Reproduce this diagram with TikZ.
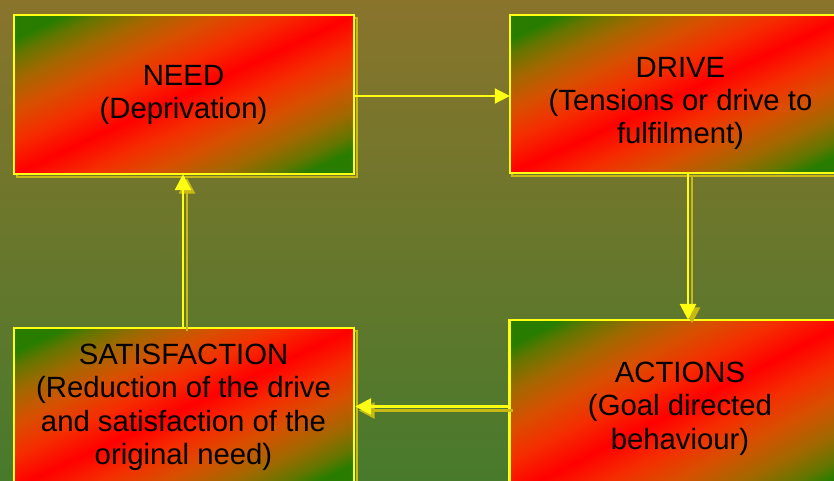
\documentclass[tikz,border=0pt]{standalone}
\usepackage{fontspec}
\setmainfont{Liberation Sans}
\usetikzlibrary{arrows.meta}
\definecolor{bgtop}{RGB}{138,116,44}
\definecolor{bgbot}{RGB}{72,122,44}
\definecolor{gA}{RGB}{40,125,0}
\definecolor{gB}{RGB}{100,118,0}
\definecolor{gC}{RGB}{160,105,0}
\definecolor{gD}{RGB}{215,80,0}
\definecolor{gE}{RGB}{245,45,0}
\definecolor{gF}{RGB}{255,0,0}
\definecolor{lineyel}{RGB}{255,255,20}
\definecolor{shadowyel}{RGB}{200,185,20}
\pgfdeclareverticalshading{boxgrad}{100bp}{color(0bp)=(gA); color(28.75bp)=(gA); color(31.25bp)=(gB); color(35bp)=(gC); color(40bp)=(gD); color(45bp)=(gE); color(50bp)=(gF); color(55bp)=(gE); color(60bp)=(gD); color(65bp)=(gC); color(68.75bp)=(gB); color(71.25bp)=(gA); color(100bp)=(gA)}
% #1 node name, #2 angle of the red diagonal, #3 distance corner--diagonal
\newcommand\mygradbox[3]{%
  \begin{scope}
    \clip (#1.south west) rectangle (#1.north east);
    \begin{scope}[transform canvas={rotate around={#2:(#1.center)}}]
      \shade[shading=boxgrad] ([xshift=-260pt,yshift=-#3pt]#1.center) rectangle ([xshift=260pt,yshift=#3pt]#1.center);
    \end{scope}
  \end{scope}
  \draw[boxborder] (#1.south west) rectangle (#1.north east);
}
\tikzset{
  boxshape/.style={rectangle, inner sep=0pt},
  boxborder/.style={draw=lineyel, line width=2.5pt},
  boxshadow/.style={draw=shadowyel, line width=2pt},
  lbl/.style={font=\fontsize{29.3}{33.3}\selectfont, align=center, text=black, inner sep=0pt, anchor=north},
  mainline/.style={draw=lineyel, line width=2.8pt},
  shadowline/.style={draw=shadowyel, line width=2.8pt},
  bigtip/.style={-{Triangle[length=16pt,width=16pt]}},
  smalltip/.style={-{Triangle[length=15pt,width=15pt]}},
}
\begin{document}
\begin{tikzpicture}[x=1pt,y=-1pt]
\useasboundingbox (0,0) rectangle (834,480);
\clip (0,0) rectangle (834,480);
\shade[top color=bgtop, bottom color=bgbot] (0,0) rectangle (834,480);

% box shadows
\draw[boxshadow] (16.5,17.5) rectangle (356.5,176.5);
\draw[boxshadow] (512,17.5) rectangle (853,175.5);
\draw[boxshadow] (16.5,330.5) rectangle (356.5,490.5);
\draw[boxshadow] (512,322.5) rectangle (853,498.5);

% boxes
\node[boxshape, minimum width=340pt, minimum height=159pt] (need) at (184,94.5) {};
\node[boxshape, minimum width=341pt, minimum height=158pt] (drive) at (680.5,94) {};
\node[boxshape, minimum width=340pt, minimum height=160pt] (sat) at (184,408) {};
\node[boxshape, minimum width=341.5pt, minimum height=176pt] (act) at (680.25,408) {};
\mygradbox{need}{25.06}{144.03}
\mygradbox{drive}{24.86}{143.36}
\mygradbox{sat}{25.20}{144.77}
\mygradbox{act}{27.27}{156.44}

% texts
\node[lbl] (needtxt) at (183.5,65) {NEED\\(Deprivation)};
\node[lbl] (drivetxt) at (680.5,57) {DRIVE\\(Tensions or drive to\\fulfilment)};
\node[lbl] (sattxt) at (183.5,344) {SATISFACTION\\(Reduction of the drive\\and satisfaction of the\\original need)};
\node[lbl] (acttxt) at (680,362) {ACTIONS\\(Goal directed\\behaviour)};

% connector coordinates
\coordinate (a1) at ([xshift=1pt,yshift=-1.5pt]need.east);
\coordinate (a2) at (a1 -| drive.west);
\coordinate (b1) at ([xshift=7.5pt]drive.south);
\coordinate (b2) at (b1 |- act.north);
\coordinate (c1) at ([yshift=1.5pt]act.west);
\coordinate (c2) at ([xshift=1pt]c1 -| sat.east);
\coordinate (d1) at ([xshift=-1pt]sat.north);
\coordinate (d2) at (d1 |- need.south);

% NEED -> DRIVE
\draw[mainline, line width=2pt, smalltip] (a1) -- (a2);

% shadows of the double arrows
\draw[shadowline, bigtip] ([xshift=4pt,yshift=-3.5pt]b1) -- ([xshift=4pt,yshift=-3.5pt]b2);
\draw[shadowline, bigtip] ([xshift=3.5pt,yshift=-4pt]c1) -- ([xshift=3.5pt,yshift=-4pt]c2);
\draw[shadowline, bigtip] ([xshift=4pt,yshift=-3.5pt]d1) -- ([xshift=4pt,yshift=-3.5pt]d2);

% DRIVE -> ACTIONS, ACTIONS -> SATISFACTION, SATISFACTION -> NEED
\draw[mainline, bigtip] (b1) -- (b2);
\draw[mainline, bigtip] (c1) -- (c2);
\draw[mainline, bigtip] (d1) -- (d2);
\end{tikzpicture}
\end{document}
